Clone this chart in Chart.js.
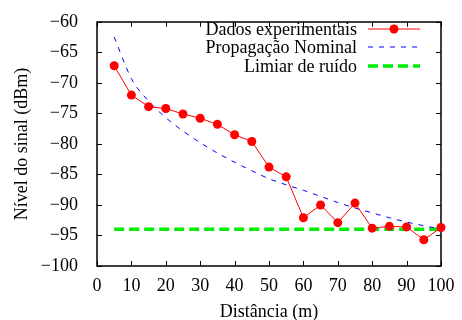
<!DOCTYPE html>
<html>
<head>
<meta charset="utf-8">
<script src="https://cdn.jsdelivr.net/npm/chart.js@4/dist/chart.umd.min.js"></script>
<style>
html,body{margin:0;padding:0;background:#fff;}
#c{display:block;}
</style>
</head>
<body>
<canvas id="c" width="462" height="320"></canvas>
<script>
// ---- data ----
const distances = [5,10,15,20,25,30,35,40,45,50,55,60,65,70,75,80,85,90,95,100];
const experimental = [-67.2,-72.0,-73.9,-74.2,-75.1,-75.8,-76.8,-78.5,-79.6,-83.8,-85.4,-92.1,-90.0,-92.9,-89.7,-93.8,-93.5,-93.6,-95.7,-93.7];
const nominal = [-62.5,-69.3,-73.0,-75.7,-77.9,-79.8,-81.5,-83.0,-84.4,-85.7,-86.7,-87.6,-88.6,-89.6,-90.5,-91.3,-92.1,-92.8,-93.4,-94.0];
const noiseX = [5,100];
const noise = [-94,-94];
const seriesLabels = ["Dados experimentais","Propagação Nominal","Limiar de ruído"];
const xTicks = [0,10,20,30,40,50,60,70,80,90,100];
const yTicks = [-100,-95,-90,-85,-80,-75,-70,-65,-60];
const xTitle = "Distância (m)";
const yTitle = "Nível do sinal (dBm)";

const FONT = "'Liberation Serif','Times New Roman',serif";
const FS = 18;

function pts(xs, ys){ return xs.map((x,i)=>({x:x,y:ys[i]})); }

const styles = [
  {color:'#ff0000', width:1, dash:[], point:4.5},
  {color:'#0000ff', width:1, dash:[5,6], point:0},
  {color:'#00ee00', width:3.5, dash:[10,5], point:0}
];

const framePlugin = {
  id:'frame',
  beforeDatasetsDraw(chart){
    const {ctx, chartArea:a, scales:{x,y}} = chart;
    ctx.save();
    ctx.strokeStyle = '#000';
    ctx.lineWidth = 1.5;
    ctx.beginPath();
    ctx.rect(Math.round(a.left), Math.round(a.top), Math.round(a.right-a.left), Math.round(a.bottom-a.top));
    ctx.stroke();
    const L = 5;
    ctx.lineWidth = 1;
    ctx.beginPath();
    xTicks.forEach(v=>{
      const px = Math.round(x.getPixelForValue(v))+0.5;
      ctx.moveTo(px, a.bottom); ctx.lineTo(px, a.bottom-L);
      ctx.moveTo(px, a.top); ctx.lineTo(px, a.top+L);
    });
    yTicks.forEach(v=>{
      const py = Math.round(y.getPixelForValue(v))+0.5;
      ctx.moveTo(a.left, py); ctx.lineTo(a.left+L, py);
      ctx.moveTo(a.right, py); ctx.lineTo(a.right-L, py);
    });
    ctx.stroke();
    ctx.restore();
  }
};

const legendPlugin = {
  id:'gpLegend',
  afterDatasetsDraw(chart){
    const ctx = chart.ctx;
    const textRight = 357, x0 = 368, x1 = 420, rows = [29,47,66];
    ctx.save();
    ctx.font = FS + "px " + FONT;
    ctx.textAlign = 'right';
    ctx.textBaseline = 'middle';
    seriesLabels.forEach((lab,i)=>{
      const s = styles[i];
      ctx.fillStyle = '#000';
      ctx.fillText(lab, textRight, rows[i]+1);
      ctx.strokeStyle = s.color;
      ctx.lineWidth = s.width;
      ctx.setLineDash(s.dash);
      ctx.beginPath();
      ctx.moveTo(x0, rows[i]); ctx.lineTo(x1, rows[i]);
      ctx.stroke();
      ctx.setLineDash([]);
      if (s.point){
        ctx.fillStyle = s.color;
        ctx.beginPath();
        ctx.arc(394, rows[i], s.point, 0, Math.PI*2);
        ctx.fill();
      }
    });
    ctx.restore();
  }
};

new Chart(document.getElementById('c'), {
  type:'line',
  data:{
    datasets:[
      {label:seriesLabels[0], data:pts(distances, experimental), borderColor:styles[0].color, backgroundColor:styles[0].color,
       borderWidth:1, pointRadius:4.5, pointBorderWidth:0, pointBackgroundColor:styles[0].color, clip:false, order:0},
      {label:seriesLabels[1], data:pts(distances, nominal), borderColor:styles[1].color, borderWidth:1, borderDash:styles[1].dash,
       pointRadius:0, cubicInterpolationMode:'monotone', clip:false, order:1},
      {label:seriesLabels[2], data:pts(noiseX, noise), borderColor:styles[2].color, borderWidth:styles[2].width, borderDash:styles[2].dash,
       pointRadius:0, clip:false, order:2}
    ]
  },
  options:{
    responsive:false,
    animation:false,
    devicePixelRatio:1,
    layout:{padding:{top:15,right:21,left:0,bottom:0}},
    plugins:{legend:{display:false}, tooltip:{enabled:false}},
    scales:{
      x:{
        type:'linear', min:0, max:100,
        afterBuildTicks(s){ s.ticks = xTicks.map(v=>({value:v})); },
        afterFit(s){ s.height = 54; },
        grid:{display:false}, border:{display:false},
        ticks:{color:'#000', font:{family:FONT,size:FS}, padding:1, maxRotation:0, autoSkip:false},
        title:{display:true, text:xTitle, color:'#000', font:{family:FONT,size:FS,lineHeight:0.85}, padding:{top:0,bottom:0}}
      },
      y:{
        type:'linear', min:-100, max:-60,
        afterBuildTicks(s){ s.ticks = yTicks.map(v=>({value:v})); },
        afterFit(s){ s.width = 97; },
        grid:{display:false}, border:{display:false},
        ticks:{color:'#000', font:{family:FONT,size:FS}, padding:11, autoSkip:false,
               callback:v=>String(v).replace('-','\u2212')},
        title:{display:true, text:yTitle, color:'#000', font:{family:FONT,size:FS}, padding:{top:11,bottom:0}}
      }
    }
  },
  plugins:[framePlugin, legendPlugin]
});
</script>
</body>
</html>
